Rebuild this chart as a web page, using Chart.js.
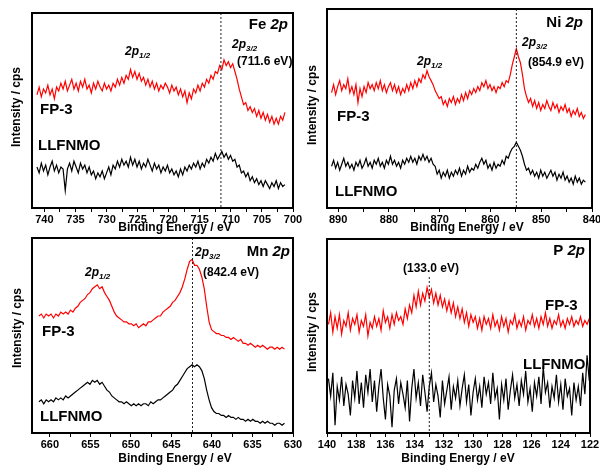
<!DOCTYPE html>
<html>
<head>
<meta charset="utf-8">
<script src="https://cdn.jsdelivr.net/npm/chart.js@4.4.0/dist/chart.umd.min.js"></script>
<style>
body { margin: 0; background: #fff; }
#wrap { position: relative; width: 600px; height: 465px; overflow: hidden; }
canvas { position: absolute; }
</style>
</head>
<body>
<div id="wrap">
<canvas id="fe"></canvas>
<canvas id="ni"></canvas>
<canvas id="mn"></canvas>
<canvas id="p"></canvas>
</div>
<script>
// Fe 2p
const feEnergyStart = 741.2, feEnergyStep = 0.35;
const feFP3 = [58,62,57,61,59,63,58,61,56,62, 60,64,61,65,60,63,66,61,64,60, 65,62,66,61,63,59,64,61,65,62,
  60,64,61,63,60,64,62,66,63,67, 64,68,66,71,67,70,66,69,65,67, 63,66,62,65,61,64,60,63,61,64,
  62,59,63,60,62,58,61,57,60,54, 59,56,61,59,63,60,64,62,66,64, 68,66,70,69,73,71,76,73,75,72,
  74,70,66,61,57,53,54,50,52,49, 51,47,50,46,49,45,48,44,47,43, 46,43,47,45,49];
const feLLFNMO = [21,18,23,19,22,17,21,24,19,22, 18,21,20,9,20,23,19,24,21,18, 23,20,22,18,21,17,19,15,18,16,
  19,15,18,21,17,22,20,24,21,25, 22,24,21,26,22,25,21,24,20,23, 21,25,22,19,23,20,22,18,21,19,
  22,18,20,17,19,16,20,17,21,19, 22,20,23,21,24,20,23,21,25,23, 26,24,28,25,27,29,26,28,25,27,
  24,25,21,22,18,19,16,18,14,16, 13,15,12,14,11,14,12,10,13,11, 14,10,13,11,12];
const feMajorTicks = [740, 735, 730, 725, 720, 715, 710, 705, 700];
const feMinorTicks = [737.5, 732.5, 727.5, 722.5, 717.5, 712.5, 707.5, 702.5];

// Ni 2p
const niEnergyStart = 891.3, niEnergyStep = 0.4;
const niFP3 = [58,62,57,61,64,59,62,60,65,58, 61,57,62,53,60,56,61,58,63,60, 62,59,63,60,64,59,62,58,61,63,
  59,62,58,61,57,60,58,62,59,63, 60,64,61,65,63,67,65,69,66,64, 62,59,57,55,56,52,54,51,55,53,
  56,52,55,53,57,54,58,55,59,57, 60,58,61,59,63,61,64,60,62,59, 61,58,61,60,63,61,64,63,67,72,
  76,80,76,73,67,60,56,53,55,51, 54,50,53,49,52,50,54,51,49,53, 50,52,48,51,49,52,48,50,46,49,
  47,50,46,48,45,47];
const niLLFNMO = [21,24,20,23,19,22,25,21,23,20, 22,19,23,21,24,20,22,25,21,23, 20,24,22,25,21,23,20,24,22,26,
  22,24,21,23,20,24,22,25,23,26, 23,25,22,26,24,27,24,26,23,25, 22,21,17,19,15,18,16,19,15,18,
  16,19,17,20,16,19,17,21,18,20, 19,22,20,23,25,22,24,20,22,19, 23,20,22,21,24,22,26,25,28,30,
  31,33,31,29,26,22,19,20,17,19, 16,18,15,19,16,18,15,17,19,16, 18,14,17,15,18,14,16,13,15,12,
  16,13,15,12,14,13];
const niMajorTicks = [890, 880, 870, 860, 850, 840];
const niMinorTicks = [885, 875, 865, 855, 845];

// Mn 2p
const mnEnergyStart = 661.35, mnEnergyStep = 0.3;
const mnFP3 = [60,61,59,61,60,61,59,61,60,62, 61,62,61,63,62,64,65,67,68,69, 71,72,74,75,76,74,75,72,70,68,
  65,62,60,59,58,57,57,56,56,55, 56,54,55,56,55,57,57,58,59,60, 60,62,63,64,65,67,68,70,72,75,
  79,84,88,89,86,86,84,80,74,65, 57,53,52,51,51,50,50,49,49,48, 49,48,47,48,46,46,45,46,45,44,
  45,44,45,44,43,44,44,43,44,43, 44,43];
const mnLLFNMO = [16,17,15,17,16,17,16,18,17,18, 17,19,18,19,20,21,22,23,24,25, 26,25,27,26,27,25,26,24,22,21,
  19,18,17,16,16,15,16,15,14,15, 14,15,14,15,15,14,16,15,16,17, 17,18,19,20,21,22,24,25,27,29,
  31,33,34,35,34,35,34,32,28,22, 17,13,11,10,10,9,9,8,9,8, 8,7,8,7,7,6,7,6,7,6,
  6,5,6,5,6,5,5,4,5,5, 4,5];
const mnMajorTicks = [660, 655, 650, 645, 640, 635, 630];
const mnMinorTicks = [657.5, 652.5, 647.5, 642.5, 637.5, 632.5];

// P 2p
const pEnergyStart = 139.9, pEnergyStep = 0.15;
const pFP3 = [56,62,52,60,54,61,51,58,55,62, 53,59,56,61,52,58,55,61,50,57, 54,60,55,59,53,63,57,60,54,61,
  56,62,58,60,56,64,59,66,62,71, 65,73,66,72,68,75,70,74,67,72, 66,71,65,69,63,68,62,67,60,65,
  59,64,57,62,55,61,57,60,54,59, 53,60,56,59,54,61,55,58,53,60, 55,59,52,58,56,61,54,58,55,60,
  53,58,56,61,55,59,54,60,56,62, 55,59,54,58,56,61,55,58,54,59, 56,60,55,58,56,60,55,58,56,59];
const pLLFNMO = [28,19,31,4,24,17,29,14,25,20, 9,27,18,32,15,26,13,30,21,33, 16,27,11,24,33,18,7,25,19,3,
  22,28,15,26,20,13,27,6,23,33, 18,26,14,30,21,11,24,31,16,25, 19,8,27,15,22,29,12,24,18,27,
  14,23,30,16,25,9,21,28,17,24, 13,29,20,26,15,31,18,23,7,25, 17,28,12,22,30,18,25,14,27,20,
  32,16,23,11,26,19,29,15,34,21, 26,13,24,18,30,16,25,12,28,19, 23,9,26,17,24,14,31,20,40,27];
const pMajorTicks = [140, 138, 136, 134, 132, 130, 128, 126, 124, 122];
const pMinorTicks = [139, 137, 135, 133, 131, 129, 127, 125, 123];

const FONT = '"Liberation Sans", Arial, sans-serif';
const RED = '#ff0000';

function bold(size, italic) {
    return (italic ? 'italic ' : '') + 'bold ' + size + 'px ' + FONT;
}

function toPoints(start, step, values) {
    return values.map((v, i) => ({ x: start - i * step, y: v }));
}

const panels = [
    { id: 'fe', canvas: [0, 0, 306, 236], area: [32, 13, 293, 208], min: 700, max: 742,
      start: feEnergyStart, step: feEnergyStep, fp3: feFP3, llfnmo: feLLFNMO,
      majors: feMajorTicks, minors: feMinorTicks, peak: 711.6, peakTop: 13,
      element: ['Fe', 288, 25], subs: [[125, 52, '1/2'], [232, 45, '3/2']],
      texts: [['(711.6 eV)', 237, 62, 12], ['FP-3', 40, 110, 15], ['LLFNMO', 38, 146, 15]],
      yTitle: [17, 107], xTitle: [175, 228] },
    { id: 'ni', canvas: [298, 0, 302, 236], area: [327, 9, 592, 208], min: 840, max: 892.2,
      start: niEnergyStart, step: niEnergyStep, fp3: niFP3, llfnmo: niLLFNMO,
      majors: niMajorTicks, minors: niMinorTicks, peak: 854.9, peakTop: 9,
      element: ['Ni', 583, 23], subs: [[417, 62, '1/2'], [522, 43, '3/2']],
      texts: [['(854.9 eV)', 528, 63, 12], ['FP-3', 337, 117, 15], ['LLFNMO', 335, 192, 15]],
      yTitle: [313, 105], xTitle: [467, 228] },
    { id: 'mn', canvas: [0, 232, 306, 233], area: [32, 238, 293, 433], min: 630, max: 662.2,
      start: mnEnergyStart, step: mnEnergyStep, fp3: mnFP3, llfnmo: mnLLFNMO,
      majors: mnMajorTicks, minors: mnMinorTicks, peak: 642.4, peakTop: 238,
      element: ['Mn', 290, 252], subs: [[85, 273, '1/2'], [195, 253, '3/2']],
      texts: [['(842.4 eV)', 203, 273, 12], ['FP-3', 42, 332, 15], ['LLFNMO', 40, 417, 15]],
      yTitle: [18, 328], xTitle: [175, 459] },
    { id: 'p', canvas: [298, 232, 302, 233], area: [327, 239, 590, 433], min: 122, max: 140,
      start: pEnergyStart, step: pEnergyStep, fp3: pFP3, llfnmo: pLLFNMO,
      majors: pMajorTicks, minors: pMinorTicks, peak: 133.0, peakTop: 277,
      element: ['P', 585, 251], subs: [],
      texts: [['(133.0 eV)', 403, 269, 12], ['FP-3', 545, 306, 15], ['LLFNMO', 523, 365, 15]],
      yTitle: [313, 332], xTitle: [458, 459] }
];

const AXIS_H = 18;

const panelDecor = {
    id: 'panelDecor',
    afterDraw(chart, args, p) {
        const ctx = chart.ctx;
        const a = chart.chartArea;
        const ox = p.canvas[0], oy = p.canvas[1];
        const xs = chart.scales.x;
        ctx.save();

        // dotted peak line
        const px = xs.getPixelForValue(p.peak);
        ctx.strokeStyle = '#222';
        ctx.lineWidth = 1;
        ctx.setLineDash([2, 2]);
        ctx.beginPath();
        ctx.moveTo(px, Math.max(a.top, p.peakTop - oy));
        ctx.lineTo(px, a.bottom);
        ctx.stroke();
        ctx.setLineDash([]);

        // frame
        ctx.lineWidth = 2;
        ctx.strokeStyle = '#000';
        ctx.strokeRect(a.left, a.top, a.right - a.left, a.bottom - a.top);

        ctx.fillStyle = '#000';
        ctx.textBaseline = 'middle';
        ctx.textAlign = 'left';

        // element label, e.g. "Fe 2p"
        const [el, elRight, elY] = p.element;
        ctx.font = bold(15);
        const w1 = ctx.measureText(el + ' ').width;
        ctx.font = bold(15, true);
        const w2 = ctx.measureText('2p').width;
        let x = elRight - ox - w1 - w2;
        ctx.font = bold(15);
        ctx.fillText(el + ' ', x, elY - oy);
        ctx.font = bold(15, true);
        ctx.fillText('2p', x + w1, elY - oy);

        // 2p1/2, 2p3/2
        p.subs.forEach(s => {
            ctx.font = bold(12, true);
            ctx.fillText('2p', s[0] - ox, s[1] - oy);
            const w = ctx.measureText('2p').width;
            ctx.font = bold(8, true);
            ctx.fillText(s[2], s[0] - ox + w, s[1] - oy + 4);
        });

        p.texts.forEach(t => {
            ctx.font = bold(t[3]);
            ctx.fillText(t[0], t[1] - ox, t[2] - oy);
        });

        // axis titles
        ctx.font = bold(12);
        ctx.textAlign = 'center';
        ctx.fillText('Binding Energy / eV', p.xTitle[0] - ox, p.xTitle[1] - oy);
        ctx.translate(p.yTitle[0] - ox, p.yTitle[1] - oy);
        ctx.rotate(-Math.PI / 2);
        ctx.fillText('Intensity / cps', 0, 0);
        ctx.restore();
    }
};

function makePanel(p) {
    const el = document.getElementById(p.id);
    const [cx, cy, cw, ch] = p.canvas;
    const [l, t, r, b] = p.area;
    el.width = cw;
    el.height = ch;
    el.style.left = cx + 'px';
    el.style.top = cy + 'px';

    const tickValues = p.majors.concat(p.minors).sort((m, n) => m - n);

    return new Chart(el, {
        type: 'line',
        data: {
            datasets: [{
                data: toPoints(p.start, p.step, p.fp3),
                borderColor: RED,
                borderWidth: 1.2,
                pointRadius: 0,
                tension: 0
            }, {
                data: toPoints(p.start, p.step, p.llfnmo),
                borderColor: '#000',
                borderWidth: 1.2,
                pointRadius: 0,
                tension: 0
            }]
        },
        options: {
            responsive: false,
            animation: false,
            events: [],
            layout: {
                padding: { left: l - cx, top: t - cy, right: cx + cw - r, bottom: cy + ch - b - AXIS_H }
            },
            plugins: {
                legend: { display: false },
                tooltip: { enabled: false },
                panelDecor: p
            },
            scales: {
                x: {
                    type: 'linear',
                    reverse: true,
                    min: p.min,
                    max: p.max,
                    afterBuildTicks: function(scale) {
                        scale.ticks = tickValues.map(v => ({ value: v }));
                    },
                    afterFit: function(scale) {
                        scale.height = AXIS_H;
                        scale.paddingLeft = 0;
                        scale.paddingRight = 0;
                    },
                    border: { display: false },
                    grid: { drawOnChartArea: false, drawTicks: true, tickLength: 4, color: '#000', lineWidth: 1 },
                    ticks: {
                        autoSkip: false,
                        maxRotation: 0,
                        minRotation: 0,
                        padding: 1,
                        color: '#000',
                        font: { family: FONT, size: 11, weight: 'bold' },
                        callback: function(value) {
                            return p.majors.includes(value) ? String(value) : '';
                        }
                    }
                },
                y: { display: false, min: 0, max: 100 }
            }
        },
        plugins: [panelDecor]
    });
}

panels.forEach(makePanel);
</script>
</body>
</html>
